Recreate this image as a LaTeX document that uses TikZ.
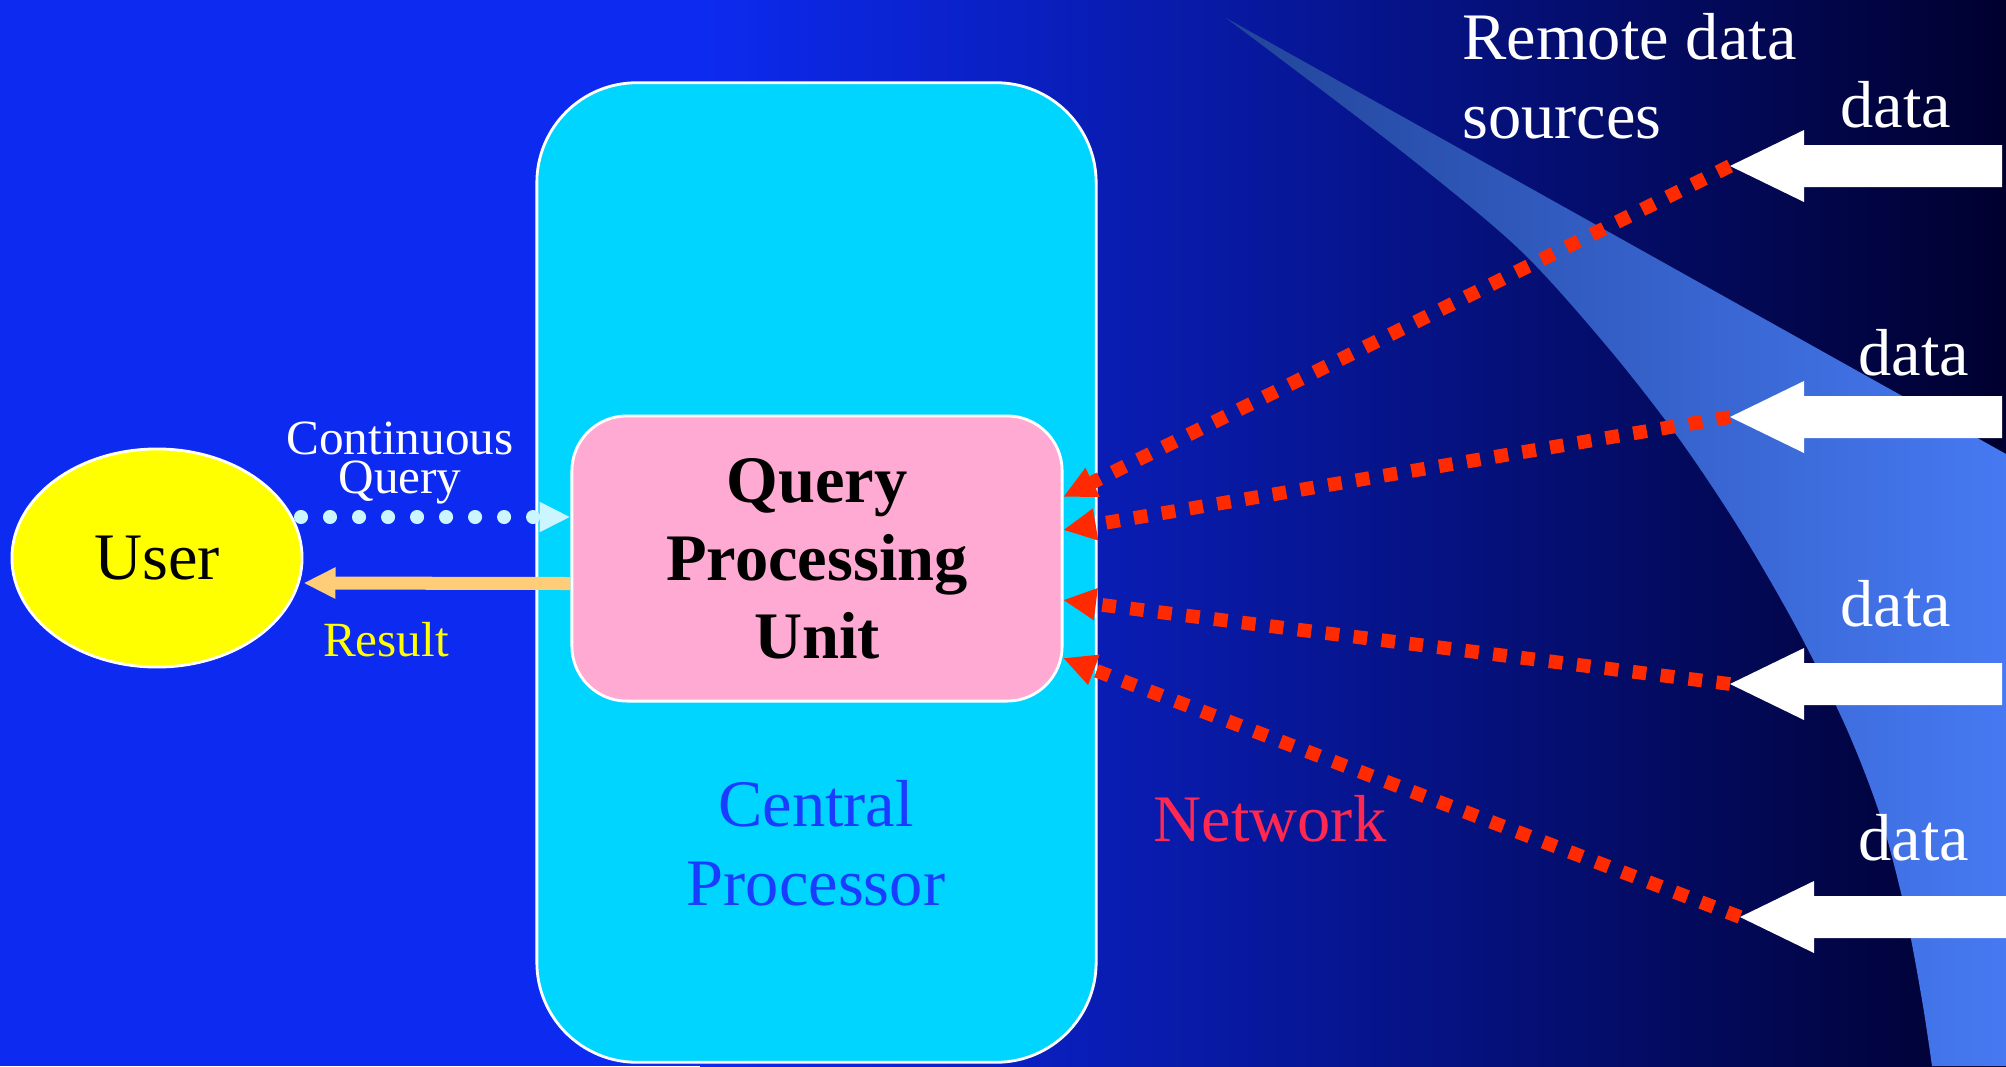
\documentclass[tikz,border=0pt]{standalone}
\usepackage{fontspec}
\setmainfont{Liberation Serif}
\usetikzlibrary{arrows.meta,calc,shapes.geometric}

\definecolor{bgblue}{HTML}{0D2AF0}
\definecolor{bgdark}{HTML}{00002E}
\definecolor{sweepA}{HTML}{22459A}
\definecolor{sweepB}{HTML}{4679F2}
\definecolor{cpcyan}{HTML}{00D5FF}
\definecolor{qpupink}{HTML}{FFAAD2}
\definecolor{useryellow}{HTML}{FFFF00}
\definecolor{netred}{HTML}{FF2A00}
\definecolor{nettext}{HTML}{FF2850}
\definecolor{resultorange}{HTML}{FFCC77}
\definecolor{querydot}{HTML}{CCF6FF}
\definecolor{cptext}{HTML}{1A3CFF}

\begin{document}
\begin{tikzpicture}[x=0.01cm,y=-0.01cm,
  big/.style={font=\fontsize{18.9}{22.4}\selectfont},
  small/.style={font=\fontsize{14}{11.3}\selectfont},
  boldbig/.style={font=\fontsize{18.9}{22.2}\selectfont\bfseries},
  processor/.style={draw=white, line width=0.8pt, fill=cpcyan, rounded corners=1cm,
    minimum width=5.59cm, minimum height=9.79cm, inner sep=0pt},
  unitbox/.style={draw=white, line width=0.8pt, fill=qpupink, rounded corners=0.55cm,
    minimum width=4.9cm, minimum height=2.85cm, inner sep=0pt, align=center},
  userbox/.style={ellipse, draw=white, line width=0.8pt, fill=useryellow,
    minimum width=2.9cm, minimum height=2.18cm, inner sep=0pt},
  netline/.style={draw=netred, line width=3.9pt, dash pattern=on 3.9pt off 4.1pt,
    -{Triangle[length=9.4pt,width=8.5pt]}},
  querydots/.style={draw=querydot, line width=4pt, line cap=round,
    dash pattern=on 0pt off 8.25pt, -{Triangle[length=8.8pt,width=8pt]}},
  resultarrow/.style={draw=resultorange, line width=3.7pt,
    -{Triangle[length=9.1pt,width=8.3pt]}},
  dataarrow/.pic={\fill[white] (0,0) -- (74,-36) -- (74,-21) -- (272,-21)
    -- (272,21) -- (74,21) -- (74,36) -- cycle;}
]
\useasboundingbox (0,0) rectangle (2006,1066);

% background: bright blue fading to dark navy on the right
\fill[bgblue] (0,0) rectangle (2006,1066);
\shade[left color=bgblue, right color=bgdark] (700,0) rectangle (2006,1066);

% light sweep behind the remote sources
\shade[left color=sweepA, right color=sweepB]
  (1226,18) -- (2006,454) -- (2006,1066) -- (1932,1066)
  -- plot[smooth] coordinates {(1932,1066) (1922,1000) (1905,910) (1880,815)
     (1845,725) (1795,625) (1740,530) (1680,440) (1610,350) (1520,250)
     (1400,150) (1226,18)}
  -- cycle;

% central processor and its query processing unit
\node[processor] (cp) at (816.5,572.5) {};
\node[unitbox, boldbig] (qpu) at (817,558.5) {Query\\Processing\\Unit};
\node[big, text=cptext, align=center] (cptitle) at (816,843) {Central\\Processor};

% user
\node[userbox, big] (user) at (157,558) {User};

% remote data sources
\coordinate (s1) at (1730,166);
\coordinate (s2) at (1730,417);
\coordinate (s3) at (1730,684);
\coordinate (s4) at (1740,917);
\pic at (s1) {dataarrow};
\pic at (s2) {dataarrow};
\pic at (s3) {dataarrow};
\pic at (s4) {dataarrow};
\node[big, white] (d1) at (1896,105) {data};
\node[big, white] (d2) at (1914,353) {data};
\node[big, white] (d3) at (1896,604) {data};
\node[big, white] (d4) at (1914,838) {data};
\node[big, white, align=left, anchor=west] (remote) at (1450,76) {Remote data\\sources};

% network links into the unit
\coordinate (q1) at (1063,497);
\coordinate (q2) at (1063,530);
\coordinate (q3) at (1063,600);
\coordinate (q4) at (1063,658);
\draw[netline] (s1) -- (q1);
\draw[netline] (s2) -- (q2);
\draw[netline] (s3) -- (q3);
\draw[netline] (s4) -- (q4);
\node[big, text=nettext] (net) at (1270,819) {Network};

% continuous query and result
\coordinate (cqs) at (301,517);
\draw[querydots] (cqs) -- (qpu.west |- cqs);
\node[small, white, align=center] (cq) at (400,463) {Continuous\\Query};
\draw[resultarrow] ($(qpu.west)+(0,25)$) -- ($(user.east)+(0,25)$);
\node[small, text=useryellow] (res) at (386,640) {Result};
\end{tikzpicture}
\end{document}
